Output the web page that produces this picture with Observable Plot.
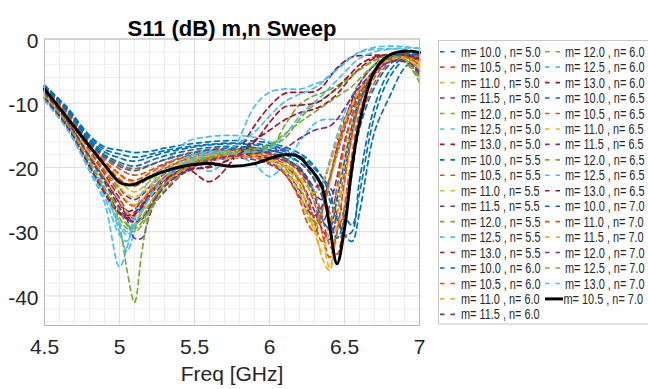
<!DOCTYPE html>
<html><head><meta charset="utf-8">
<script src="https://cdn.jsdelivr.net/npm/d3@7"></script>
<script src="https://cdn.jsdelivr.net/npm/@observablehq/plot@0.6"></script>
<style>
html,body{margin:0;padding:0;background:#fff;}
#chart{width:648px;height:389px;overflow:hidden;}
</style></head>
<body><div id="chart"></div>
<script>
// ---------- data ----------
const freq = [4.5,4.65,4.8,4.9,5.0,5.05,5.1,5.15,5.2,5.3,5.45,5.6,5.75,5.9,6.0,6.1,6.2,6.25,6.3,6.35,6.4,6.45,6.5,6.55,6.6,6.7,6.8,6.9,7.0];

const mValues = [10.0,10.5,11.0,11.5,12.0,12.5,13.0];
const nValues = [5.0,5.5,6.0,6.5,7.0];

// S11 (dB) per n, one row per m (in mValues order)
const s11_n50 = [
  [-7.2,-10.6,-15.0,-16.8,-17.3,-17.5,-17.7,-17.6,-17.5,-17.0,-16.4,-16.0,-15.8,-15.9,-16.2,-16.8,-17.8,-18.6,-19.8,-21.5,-24.0,-27.5,-30.5,-31.5,-27.0,-14.5,-9.0,-4.5,-2.8],
  [-7.4,-11.2,-16.0,-18.2,-19.5,-20.0,-20.2,-20.0,-19.6,-18.8,-17.8,-17.2,-16.9,-17.0,-17.4,-18.0,-19.2,-20.2,-21.8,-24.0,-27.0,-29.5,-26.5,-19.0,-13.0,-6.8,-3.6,-2.4,-2.8],
  [-7.6,-11.6,-16.6,-19.2,-21.2,-22.0,-22.3,-22.0,-21.3,-20.0,-18.6,-17.8,-17.4,-17.5,-17.9,-18.7,-20.5,-22.5,-25.5,-30.0,-35.5,-30.5,-22.5,-15.5,-10.5,-5.2,-3.0,-2.3,-3.2],
  [-7.8,-12.0,-17.2,-20.3,-23.2,-24.5,-25.0,-24.3,-23.0,-21.0,-19.2,-18.4,-18.0,-18.2,-18.8,-19.8,-22.0,-24.0,-26.8,-29.5,-31.2,-27.0,-20.5,-14.5,-10.0,-5.5,-3.4,-2.8,-5.2],
  [-8.0,-12.4,-17.8,-21.2,-25.0,-27.5,-29.0,-27.0,-24.5,-21.5,-19.4,-18.3,-17.8,-17.9,-18.5,-20.0,-24.0,-27.0,-29.0,-26.5,-21.5,-17.0,-13.0,-10.0,-7.8,-4.8,-3.2,-3.4,-6.8],
  [-9.0,-13.2,-19.0,-23.0,-30.0,-33.0,-30.0,-26.0,-23.5,-19.5,-16.0,-15.2,-15.0,-15.3,-16.0,-17.5,-20.0,-21.8,-23.5,-22.5,-19.0,-15.0,-11.5,-8.8,-6.8,-4.2,-2.6,-1.9,-2.4],
  [-8.6,-12.8,-18.3,-21.8,-25.5,-26.8,-26.5,-25.2,-23.8,-21.8,-20.0,-19.0,-18.5,-18.3,-18.4,-19.0,-20.5,-22.0,-24.0,-25.0,-22.0,-17.0,-13.0,-9.5,-7.0,-4.0,-2.5,-2.2,-3.4]
];
const s11_n55 = [
  [-7.3,-10.8,-15.3,-17.2,-17.9,-18.2,-18.4,-18.3,-18.0,-17.4,-16.8,-16.4,-16.2,-16.3,-16.6,-17.2,-18.2,-19.0,-20.2,-21.5,-23.0,-25.0,-27.5,-29.0,-24.0,-12.0,-6.0,-3.2,-2.5],
  [-7.5,-11.3,-16.2,-18.6,-20.2,-20.9,-21.2,-21.0,-20.5,-19.4,-18.2,-17.5,-17.2,-17.3,-17.8,-18.6,-20.2,-21.8,-24.0,-27.5,-32.0,-33.5,-26.0,-18.0,-11.5,-6.0,-3.3,-2.4,-3.0],
  [-7.7,-11.8,-16.8,-19.6,-22.0,-23.2,-23.8,-23.2,-22.2,-20.4,-18.9,-18.0,-17.6,-17.8,-18.3,-19.2,-21.8,-24.5,-28.5,-34.0,-36.0,-28.0,-19.5,-13.5,-9.5,-5.0,-3.0,-2.5,-3.6],
  [-7.9,-12.2,-17.6,-21.0,-25.0,-28.0,-31.0,-31.0,-27.5,-22.5,-19.8,-18.7,-18.2,-18.4,-19.2,-20.6,-23.5,-25.5,-27.8,-28.5,-26.0,-21.5,-16.0,-12.0,-8.8,-5.0,-3.2,-3.0,-5.4],
  [-8.2,-12.6,-18.3,-22.0,-29.0,-36.0,-41.0,-33.0,-27.0,-22.0,-19.4,-18.0,-17.3,-17.0,-17.2,-18.5,-22.5,-26.0,-28.5,-26.5,-22.0,-17.5,-13.5,-10.5,-8.2,-5.2,-3.4,-3.6,-6.2],
  [-9.5,-14.0,-20.6,-25.5,-35.5,-32.5,-27.5,-24.0,-22.0,-19.8,-18.0,-20.6,-17.5,-10.5,-8.3,-7.8,-7.8,-7.5,-7.0,-6.6,-5.6,-4.7,-3.5,-2.8,-2.1,-1.6,-1.5,-1.4,-1.4],
  [-9.0,-13.3,-19.5,-23.5,-27.0,-28.0,-27.5,-26.0,-24.5,-22.0,-20.3,-22.2,-19.0,-13.5,-10.5,-8.5,-8.3,-8.3,-8.2,-7.5,-6.0,-4.5,-3.5,-2.8,-2.6,-2.5,-2.6,-2.7,-3.0]
];
const s11_n60 = [
  [-7.2,-10.9,-15.6,-17.6,-18.5,-18.9,-19.0,-18.8,-18.4,-17.7,-17.0,-16.5,-16.3,-16.5,-16.9,-17.5,-18.6,-19.5,-20.8,-22.5,-25.0,-28.0,-30.5,-30.0,-22.0,-10.5,-5.0,-2.8,-2.3],
  [-7.5,-11.4,-16.4,-19.0,-21.0,-21.8,-22.0,-21.6,-20.9,-19.6,-18.3,-17.6,-17.3,-17.5,-18.0,-18.9,-20.8,-22.8,-25.5,-30.0,-34.0,-30.0,-22.0,-15.0,-10.0,-5.2,-3.0,-2.4,-3.2],
  [-7.8,-11.9,-17.0,-20.0,-23.0,-24.2,-24.6,-24.0,-22.8,-20.8,-19.1,-18.2,-17.8,-18.0,-18.6,-19.8,-23.0,-26.0,-30.0,-33.0,-30.0,-24.0,-17.5,-12.5,-9.0,-5.0,-3.1,-2.6,-4.0],
  [-8.0,-12.4,-17.8,-21.3,-24.8,-26.8,-28.0,-28.0,-26.5,-23.8,-20.5,-19.0,-18.5,-18.8,-19.5,-21.0,-24.5,-26.5,-27.5,-26.0,-22.0,-18.0,-14.0,-11.0,-8.5,-5.2,-3.4,-3.2,-5.0],
  [-8.3,-12.7,-18.5,-22.2,-26.5,-29.0,-30.0,-29.0,-27.0,-23.5,-20.4,-18.7,-18.0,-17.6,-17.3,-13.5,-10.2,-9.4,-8.8,-8.4,-7.9,-7.3,-6.5,-5.6,-4.8,-3.4,-2.6,-2.6,-4.2],
  [-9.3,-13.6,-19.6,-23.5,-28.5,-30.0,-28.0,-25.5,-23.5,-20.8,-18.4,-17.5,-17.8,-19.5,-21.4,-19.5,-16.0,-14.5,-13.2,-12.6,-12.5,-12.5,-12.3,-10.0,-8.0,-5.2,-2.8,-2.0,-2.4],
  [-9.2,-13.5,-19.8,-23.8,-27.0,-27.5,-27.0,-25.8,-24.2,-22.0,-20.3,-20.0,-18.5,-15.8,-14.2,-12.6,-11.5,-11.2,-10.9,-10.4,-9.6,-8.6,-7.2,-5.8,-4.6,-3.0,-2.6,-2.6,-3.2]
];
const s11_n65 = [
  [-7.3,-11.0,-15.8,-18.0,-19.2,-19.6,-19.8,-19.5,-19.0,-18.2,-17.4,-16.9,-16.7,-16.9,-17.3,-17.9,-19.2,-20.3,-22.0,-24.5,-28.0,-31.0,-28.0,-21.0,-14.0,-7.5,-4.0,-2.6,-2.4],
  [-7.6,-11.5,-16.6,-19.4,-21.8,-22.6,-22.9,-22.4,-21.6,-20.2,-18.7,-17.9,-17.6,-17.8,-18.4,-19.5,-22.0,-24.5,-28.4,-31.5,-29.0,-23.0,-16.5,-12.0,-8.8,-5.0,-3.0,-2.5,-3.4],
  [-7.9,-12.0,-17.2,-20.4,-23.8,-25.2,-25.8,-25.0,-23.6,-21.4,-19.5,-18.5,-18.1,-18.3,-19.0,-20.5,-24.0,-27.5,-29.5,-27.0,-22.5,-18.0,-13.5,-10.5,-8.0,-4.8,-3.2,-2.8,-4.2],
  [-8.1,-12.5,-18.0,-21.6,-25.5,-27.5,-28.5,-27.8,-26.0,-22.8,-20.4,-19.0,-18.4,-18.3,-18.5,-18.9,-20.0,-21.5,-23.0,-22.5,-19.5,-16.0,-12.5,-10.0,-8.0,-5.0,-3.5,-3.4,-5.6],
  [-8.4,-12.8,-18.6,-22.4,-26.8,-28.8,-29.5,-28.5,-26.5,-23.0,-20.0,-18.5,-17.7,-17.2,-16.8,-15.5,-12.5,-11.2,-10.2,-9.4,-8.6,-7.8,-6.8,-5.8,-4.8,-3.3,-2.5,-2.6,-4.8],
  [-9.4,-13.8,-20.0,-24.0,-29.0,-30.5,-29.0,-26.5,-24.5,-21.5,-19.0,-17.8,-17.6,-17.6,-17.0,-15.0,-12.0,-10.8,-9.8,-8.8,-7.6,-6.4,-5.2,-4.0,-3.0,-2.0,-1.6,-1.6,-2.0],
  [-9.2,-13.6,-19.9,-24.0,-27.2,-27.8,-27.3,-26.2,-24.8,-22.6,-20.6,-19.8,-18.6,-16.0,-13.0,-10.6,-10.3,-10.2,-10.0,-9.5,-8.6,-7.6,-6.4,-5.2,-4.0,-2.8,-2.4,-2.5,-3.0]
];
// n = 7.0 dashed traces (m = 10.5 is drawn separately as the highlighted trace)
const mValues_n70 = [10.0,11.0,11.5,12.0,12.5,13.0];
const s11_n70 = [
  [-7.4,-11.2,-16.0,-18.3,-19.8,-20.3,-20.5,-20.2,-19.7,-18.8,-17.9,-17.3,-17.1,-17.3,-17.7,-18.5,-20.2,-21.8,-24.5,-28.0,-29.5,-25.0,-19.0,-13.5,-9.5,-5.2,-3.0,-2.2,-2.5],
  [-7.8,-12.0,-17.3,-20.6,-24.0,-25.5,-26.0,-25.2,-23.8,-21.5,-19.6,-18.6,-18.2,-18.5,-19.3,-21.0,-25.0,-28.5,-30.0,-27.0,-22.0,-17.5,-13.5,-10.5,-8.2,-5.0,-3.2,-2.7,-4.0],
  [-8.0,-12.3,-17.8,-21.4,-25.2,-27.0,-27.8,-27.0,-25.5,-22.6,-20.2,-19.0,-18.5,-18.4,-18.8,-19.6,-21.5,-23.0,-24.0,-22.5,-19.5,-16.0,-12.8,-10.2,-8.0,-5.0,-3.3,-3.0,-4.6],
  [-8.3,-12.7,-18.4,-22.2,-26.2,-28.0,-28.5,-27.8,-26.2,-23.0,-20.3,-18.9,-18.2,-17.8,-17.6,-17.0,-15.5,-14.8,-14.2,-13.9,-13.6,-12.5,-10.8,-9.0,-7.5,-5.0,-3.6,-3.5,-5.0],
  [-8.8,-13.2,-19.2,-23.2,-27.8,-29.5,-29.2,-27.8,-25.8,-22.6,-19.8,-18.4,-17.7,-17.2,-16.5,-14.8,-13.0,-12.2,-11.4,-10.6,-9.8,-9.0,-8.2,-7.4,-6.2,-4.0,-2.8,-3.2,-6.0],
  [-9.6,-14.0,-20.3,-24.6,-30.5,-31.5,-29.0,-26.8,-24.8,-21.8,-19.2,-18.0,-16.8,-14.5,-12.0,-9.8,-8.6,-8.2,-7.6,-6.8,-5.8,-4.8,-3.8,-2.8,-2.0,-1.3,-1.1,-1.2,-1.5]
];
// highlighted trace m = 10.5, n = 7.0
const s11_best = [-7.8,-12.2,-16.7,-19.6,-22.3,-22.7,-22.6,-22.1,-21.5,-20.6,-19.7,-19.4,-19.8,-19.4,-18.6,-18.0,-18.4,-19.6,-21.0,-23.0,-29.0,-35.0,-29.5,-20.0,-13.0,-5.0,-2.5,-1.9,-2.1];
const best = {m: 10.5, n: 7.0};

const xTicks = [4.5,5,5.5,6,6.5,7];
const yTicks = [0,-10,-20,-30,-40];
const xMinor = [4.6,4.7,4.8,4.9,5.1,5.2,5.3,5.4,5.6,5.7,5.8,5.9,6.1,6.2,6.3,6.4,6.6,6.7,6.8,6.9];
const yMinor = [-2,-4,-6,-8,-12,-14,-16,-18,-22,-24,-26,-28,-32,-34,-36,-38,-42,-44];
const palette = ["#0072BD","#D95319","#EDB120","#7E2F8E","#77AC30","#4DBEEE","#A2142F"];
const titleText = "S11 (dB) m,n Sweep";
const xLabel = "Freq [GHz]";

// ---------- build series ----------
const groups = [
  [nValues[0], mValues, s11_n50],
  [nValues[1], mValues, s11_n55],
  [nValues[2], mValues, s11_n60],
  [nValues[3], mValues, s11_n65],
  [nValues[4], mValues_n70, s11_n70]
];
const series = [];
let k = 0;
for (const [n, ms, rows] of groups) {
  rows.forEach((vals, j) => {
    series.push({m: ms[j], n, vals, color: palette[k % 7], dashed: true});
    k++;
  });
}
series.push({m: best.m, n: best.n, vals: s11_best, color: "#000", dashed: false});

const dashedRows = [];
series.forEach((s, si) => { if (s.dashed) s.vals.forEach((v, i) => dashedRows.push({f: freq[i], v, s: si, c: s.color})); });
const bestRows = s11_best.map((v, i) => ({f: freq[i], v}));

const fontFam = '"Liberation Sans", Arial, Helvetica, sans-serif';

const chart = Plot.plot({
  width: 648, height: 389,
  marginLeft: 44, marginRight: 229, marginTop: 38.5, marginBottom: 64,
  style: {fontFamily: fontFam, fontSize: "21px", color: "#262626", background: "#fff"},
  x: {domain: [4.5, 7]},
  y: {domain: [-44.6, 0]},
  color: {type: "identity"},
  marks: [
    Plot.ruleX(xMinor, {stroke: "#eeeeee", strokeWidth: 1}),
    Plot.ruleY(yMinor, {stroke: "#eeeeee", strokeWidth: 1}),
    Plot.ruleX(xTicks, {stroke: "#dedede", strokeWidth: 1}),
    Plot.ruleY(yTicks, {stroke: "#dedede", strokeWidth: 1}),
    Plot.line(dashedRows, {x: "f", y: "v", z: "s", stroke: "c", strokeWidth: 1.7, strokeDasharray: "5,4", curve: "catmull-rom"}),
    Plot.line(bestRows, {x: "f", y: "v", stroke: "#000", strokeWidth: 3, curve: "catmull-rom"}),
    Plot.frame({stroke: "#b8b8b8"}),
    Plot.axisX({ticks: xTicks, tickSize: 0, tickPadding: 14, tickFormat: d => String(d), label: null, fontSize: 21}),
    Plot.axisY({ticks: yTicks, tickSize: 0, tickPadding: 6, tickFormat: d => String(d), label: null, fontSize: 21, dy: 2}),
    Plot.text([titleText], {frameAnchor: "top", dy: -19, text: d => d, fontWeight: "bold", fontSize: 22, fill: "#000"}),
    Plot.text([xLabel], {frameAnchor: "bottom", dy: 55, text: d => d, fontSize: 21, fill: "#262626"})
  ]
});
document.getElementById("chart").appendChild(chart);

// ---------- legend ----------
const svg = d3.select(chart);
const lg = svg.append("g").attr("font-family", fontFam).attr("font-size", 14)
  .attr("fill", "#262626").attr("text-anchor", "start");
lg.append("rect").attr("x", 438.5).attr("y", 40.5).attr("width", 215).attr("height", 283.5)
  .attr("fill", "#fff").attr("stroke", "#c8c8c8");
series.forEach((s, i) => {
  const col = i < 18 ? 0 : 1;
  const row = col ? i - 18 : i;
  const y = 51.7 + row * 15.45;
  const sx = col ? 545 : 440;
  if (s.dashed) {
    lg.append("line").attr("x1", sx).attr("x2", sx + 15).attr("y1", y).attr("y2", y)
      .attr("stroke", s.color).attr("stroke-width", 1.6).attr("stroke-dasharray", "4.5,6");
  } else {
    lg.append("line").attr("x1", sx).attr("x2", sx + 18).attr("y1", y).attr("y2", y)
      .attr("stroke", "#000").attr("stroke-width", 3);
  }
  const tx = col ? (s.dashed ? 565 : 563.5) : 461;
  lg.append("g").attr("transform", `translate(${tx},${y}) scale(0.78,1)`)
    .append("text").attr("x", 0).attr("y", 0).attr("dy", "0.36em").attr("text-anchor", "start")
    .text(`m= ${s.m.toFixed(1)} , n= ${s.n.toFixed(1)}`);
});
</script>
</body></html>
